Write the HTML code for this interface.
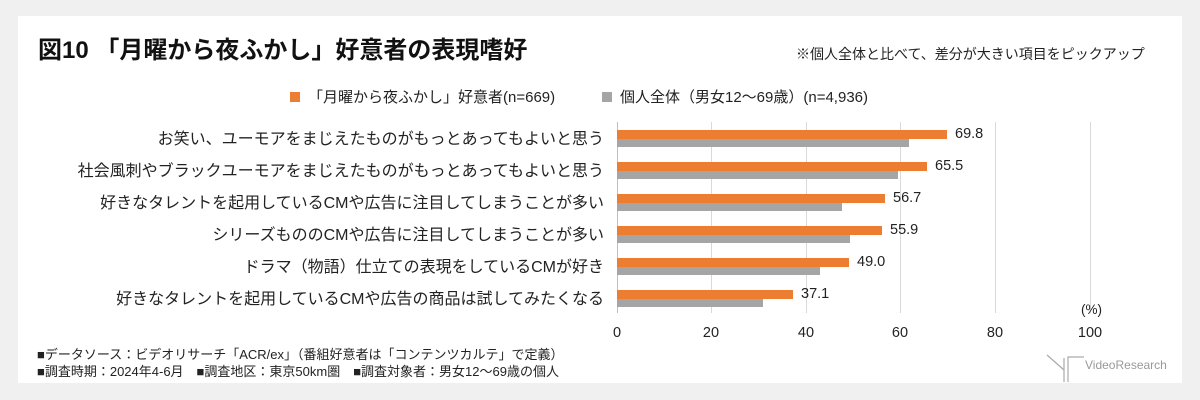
<!DOCTYPE html>
<html><head><meta charset="utf-8"><style>
body{margin:0;width:1200px;height:400px;background:#f0f0f0;position:relative;overflow:hidden;font-family:"Liberation Sans","Noto Sans CJK JP",sans-serif;color:#222}
.panel{position:absolute;left:18px;top:16px;width:1164px;height:367px;background:#fff}
.t{position:absolute;white-space:nowrap}
.lab{position:absolute;right:596px;font-size:16px;white-space:nowrap;color:#222}
.bar{position:absolute;left:617px}
.o{background:#ed7d31;height:9px}
.g{background:#a5a5a5;height:8px}
.v{position:absolute;font-size:14.5px}
.grid{position:absolute;top:122px;height:191px;width:1px;background:#d9d9d9}
.tick{position:absolute;top:325px;font-size:14.5px;width:40px;text-align:center}
</style></head><body>
<div class="panel"></div>
<div class="t" style="left:38px;top:30px;font-size:24px;font-weight:bold;color:#111">図10 「月曜から夜ふかし」好意者の表現嗜好</div>
<div class="t" style="left:796px;top:44px;font-size:14px">※個人全体と比べて、差分が大きい項目をピックアップ</div>
<div class="t" style="left:290px;top:86px;font-size:15px"><span style="display:inline-block;width:10px;height:10px;background:#ed7d31;margin-right:8px"></span>「月曜から夜ふかし」好意者(n=669)</div>
<div class="t" style="left:602px;top:86px;font-size:15px"><span style="display:inline-block;width:10px;height:10px;background:#a5a5a5;margin-right:8px"></span>個人全体（男女12～69歳）(n=4,936)</div>
<div class="grid" style="left:617px;background:#bfbfbf"></div>
<div class="grid" style="left:711px"></div>
<div class="grid" style="left:806px"></div>
<div class="grid" style="left:900px"></div>
<div class="grid" style="left:995px"></div>
<div class="grid" style="left:1090px"></div>

<div class="lab" style="top:125px">お笑い、ユーモアをまじえたものがもっとあってもよいと思う</div>
<div class="bar o" style="top:130px;width:330px"></div><div class="bar g" style="top:139px;width:292px"></div><div class="v" style="left:955px;top:126px">69.8</div>

<div class="lab" style="top:157px">社会風刺やブラックユーモアをまじえたものがもっとあってもよいと思う</div>
<div class="bar o" style="top:162px;width:310px"></div><div class="bar g" style="top:171px;width:281px"></div><div class="v" style="left:935px;top:158px">65.5</div>

<div class="lab" style="top:189px">好きなタレントを起用しているCMや広告に注目してしまうことが多い</div>
<div class="bar o" style="top:194px;width:268px"></div><div class="bar g" style="top:203px;width:225px"></div><div class="v" style="left:893px;top:190px">56.7</div>

<div class="lab" style="top:221px">シリーズもののCMや広告に注目してしまうことが多い</div>
<div class="bar o" style="top:226px;width:265px"></div><div class="bar g" style="top:235px;width:233px"></div><div class="v" style="left:890px;top:222px">55.9</div>

<div class="lab" style="top:253px">ドラマ（物語）仕立ての表現をしているCMが好き</div>
<div class="bar o" style="top:258px;width:232px"></div><div class="bar g" style="top:267px;width:203px"></div><div class="v" style="left:857px;top:254px">49.0</div>

<div class="lab" style="top:285px">好きなタレントを起用しているCMや広告の商品は試してみたくなる</div>
<div class="bar o" style="top:290px;width:176px"></div><div class="bar g" style="top:299px;width:146px"></div><div class="v" style="left:801px;top:286px">37.1</div>

<div class="t" style="left:1081px;top:302px;font-size:13.5px">(%)</div>
<div class="tick" style="left:597px">0</div>
<div class="tick" style="left:691px">20</div>
<div class="tick" style="left:786px">40</div>
<div class="tick" style="left:880px">60</div>
<div class="tick" style="left:975px">80</div>
<div class="tick" style="left:1070px">100</div>

<div class="t" style="left:37px;top:344px;font-size:13px">■データソース：ビデオリサーチ「ACR/ex」（番組好意者は「コンテンツカルテ」で定義）</div>
<div class="t" style="left:37px;top:361px;font-size:13px">■調査時期：2024年4-6月　■調査地区：東京50km圏　■調査対象者：男女12～69歳の個人</div>
<svg style="position:absolute;left:1046px;top:354px" width="40" height="30"><path d="M1 1 L18 16 M18 4 L18 28 M22 28 L22 3 L38 3" stroke="#aaa" stroke-width="1.2" fill="none"/></svg>
<div class="t" style="left:1085px;top:358px;font-size:12px;color:#999">VideoResearch</div>
</body></html>
